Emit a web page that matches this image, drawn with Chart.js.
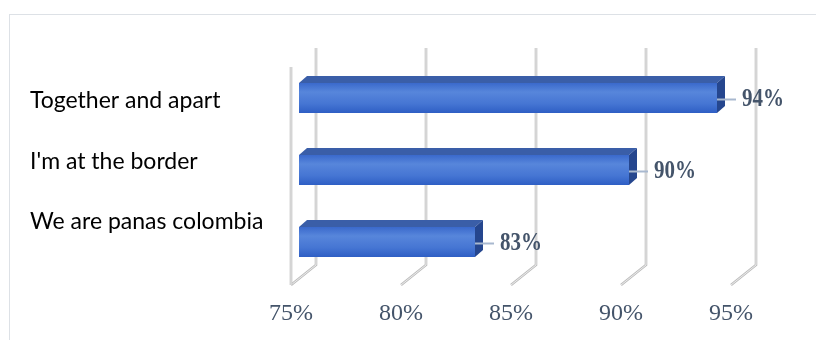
<!DOCTYPE html>
<html>
<head>
<meta charset="utf-8">
<script src="https://cdn.jsdelivr.net/npm/chart.js@4/dist/chart.umd.min.js"></script>
<style>
  html, body { margin: 0; padding: 0; background: #ffffff; }
  canvas { display: block; }
</style>
</head>
<body>
<canvas id="c" width="816" height="340"></canvas>
<script>
const categories = ["Together and apart", "I'm at the border", "We are panas colombia"];
const values = [94, 90, 83];
const axisMin = 75;
const axisMax = 95;
const axisStep = 5;

const DEPTH_X = 8, DEPTH_Y = 7;     // bar depth (3D look)
const FRONT_SHIFT = -8;             // front wall relative to bar base plane
const BACK_SHIFT = 17;              // back wall relative to bar base plane

const threeD = {
  id: 'threeD',
  beforeDraw(chart) {
    const ctx = chart.ctx;
    ctx.save();
    ctx.strokeStyle = '#dde1e6';
    ctx.lineWidth = 1;
    ctx.strokeRect(9.5, 14.5, 900, 900);
    ctx.restore();
  },
  beforeDatasetsDraw(chart) {
    const ctx = chart.ctx, xs = chart.scales.x, a = chart.chartArea;
    const backTop = a.top - 14, backBot = a.bottom - 13, frontBot = a.bottom + 7;
    function stroke(pts) {
      ctx.beginPath();
      ctx.moveTo(pts[0][0], pts[0][1]);
      for (let i = 1; i < pts.length; i++) ctx.lineTo(pts[i][0], pts[i][1]);
      ctx.strokeStyle = '#bdbdbd'; ctx.lineWidth = 2.6; ctx.stroke();
      ctx.strokeStyle = '#f2f2f2'; ctx.lineWidth = 0.9; ctx.stroke();
    }
    ctx.save();
    ctx.lineJoin = 'miter';
    xs.ticks.forEach(t => {
      const p = xs.getPixelForValue(t.value);
      stroke([[p + BACK_SHIFT, backTop], [p + BACK_SHIFT, backBot], [p + FRONT_SHIFT, frontBot]]);
    });
    const p0 = xs.getPixelForValue(axisMin) + FRONT_SHIFT;
    stroke([[p0, a.top + 5], [p0, frontBot]]);

    // category labels (projected onto the side wall)
    const ys = chart.scales.y;
    ctx.fillStyle = '#000000';
    ctx.font = '23px Lato, "Noto Sans", sans-serif';
    ctx.textAlign = 'left';
    ctx.textBaseline = 'middle';
    const c0 = ys.getPixelForValue(0);
    categories.forEach((c, i) => {
      const py = ys.getPixelForValue(i);
      ctx.fillText(c, 30, c0 + 3 + (py - c0) * 0.84);
    });
    ctx.restore();
  },
  afterDatasetsDraw(chart) {
    const ctx = chart.ctx;
    const meta = chart.getDatasetMeta(0);
    ctx.save();
    meta.data.forEach((el, i) => {
      const {x, y, base, height} = el.getProps(['x', 'y', 'base', 'height'], true);
      const top = y - height / 2, bot = y + height / 2;
      // front face
      const g = ctx.createLinearGradient(0, top, 0, bot);
      g.addColorStop(0, '#3a69cc');
      g.addColorStop(0.3, '#5786db');
      g.addColorStop(0.7, '#4575d3');
      g.addColorStop(1, '#2e5ec4');
      ctx.fillStyle = g;
      ctx.fillRect(base, top, x - base, height);
      // top face
      ctx.beginPath();
      ctx.moveTo(base, top);
      ctx.lineTo(base + DEPTH_X, top - DEPTH_Y);
      ctx.lineTo(x + DEPTH_X, top - DEPTH_Y);
      ctx.lineTo(x, top);
      ctx.closePath();
      ctx.fillStyle = '#3a5ea8';
      ctx.fill();
      // side face
      ctx.beginPath();
      ctx.moveTo(x, top);
      ctx.lineTo(x + DEPTH_X, top - DEPTH_Y);
      ctx.lineTo(x + DEPTH_X, bot - DEPTH_Y);
      ctx.lineTo(x, bot);
      ctx.closePath();
      ctx.fillStyle = '#25468e';
      ctx.fill();
      // leader line + label
      const ly = y + 1.5;
      ctx.strokeStyle = '#a8b8cf';
      ctx.lineWidth = 2;
      ctx.beginPath();
      ctx.moveTo(x, ly);
      ctx.lineTo(x + 19, ly);
      ctx.stroke();
      ctx.save();
      ctx.translate(x + 25, ly);
      ctx.scale(0.84, 1);
      ctx.fillStyle = '#44546a';
      ctx.font = 'bold 25px "Liberation Serif", "Times New Roman", serif';
      ctx.textAlign = 'left';
      ctx.textBaseline = 'middle';
      ctx.fillText(values[i] + '%', 0, 0);
      ctx.restore();
    });
    ctx.restore();
  }
};

new Chart(document.getElementById('c'), {
  type: 'bar',
  data: {
    labels: categories,
    datasets: [{
      data: values,
      base: axisMin,
      backgroundColor: 'rgba(0,0,0,0)',
      borderWidth: 0,
      barThickness: 30
    }]
  },
  options: {
    indexAxis: 'y',
    responsive: false,
    animation: false,
    devicePixelRatio: 1,
    layout: { padding: { left: 299, right: 77, top: 62, bottom: 0 } },
    plugins: { legend: { display: false }, tooltip: { enabled: false } },
    scales: {
      x: {
        type: 'linear',
        min: axisMin,
        max: axisMax,
        grid: { display: false },
        border: { display: false },
        ticks: {
          stepSize: axisStep,
          padding: 13,
          labelOffset: FRONT_SHIFT,
          color: '#44546a',
          font: { family: '"Liberation Serif", "Times New Roman", serif', size: 24 },
          callback: v => v + '%'
        },
        afterFit(scale) { scale.height = 62; }
      },
      y: { display: false }
    }
  },
  plugins: [threeD]
});
</script>
</body>
</html>
